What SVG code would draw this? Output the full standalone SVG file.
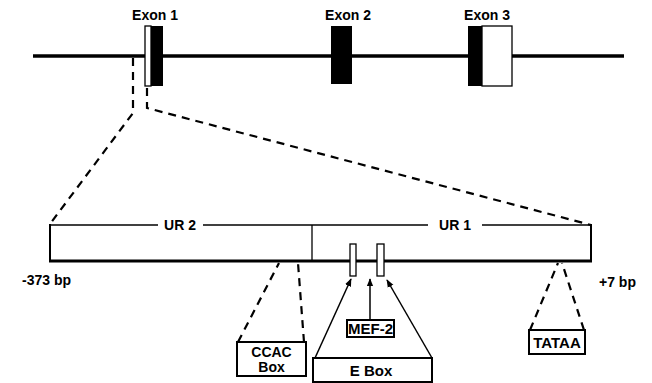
<svg xmlns="http://www.w3.org/2000/svg" width="652" height="383" viewBox="0 0 652 383">
<defs>
<style>
text{font-family:"Liberation Sans",Arial,sans-serif;font-weight:bold;font-size:14px;fill:#000}
.c{text-anchor:middle}
.b{font-size:15px}
.dash{fill:none;stroke:#000;stroke-width:2.2;stroke-dasharray:8,6}
.thin{fill:none;stroke:#000;stroke-width:1.3}
.box{fill:#fff;stroke:#000;stroke-width:2}
.arr{fill:none;stroke:#000;stroke-width:1.5;marker-end:url(#ah)}
</style>
<marker id="ah" viewBox="0 0 10 10" refX="9" refY="5" markerWidth="8" markerHeight="8" markerUnits="userSpaceOnUse" orient="auto">
<path d="M0,1 L10,5 L0,9 Z" fill="#000"/>
</marker>
</defs>
<rect width="652" height="383" fill="#fff"/>
<g id="gene">
<line x1="33" y1="56" x2="624" y2="56" stroke="#000" stroke-width="3.5"/>
</g>
<g id="exon1">
<rect x="145" y="26" width="6" height="60" fill="#fff" stroke="#000" stroke-width="1.3"/>
<rect x="151" y="26" width="12" height="60" fill="#000"/>
<text class="c" x="155" y="20">Exon 1</text>
</g>
<g id="exon2">
<rect x="331" y="26" width="21" height="58" fill="#000"/>
<text class="c" x="348" y="20">Exon 2</text>
</g>
<g id="exon3">
<rect x="482" y="26" width="30" height="60" fill="#fff" stroke="#000" stroke-width="1.3"/>
<rect x="468" y="26" width="14" height="60" fill="#000"/>
<text class="c" x="487" y="20">Exon 3</text>
</g>
<g id="promoter">
<line x1="50" y1="225" x2="158" y2="225" class="thin"/>
<line x1="203" y1="225" x2="428" y2="225" class="thin"/>
<line x1="482" y1="225" x2="591" y2="225" class="thin"/>
<line x1="50" y1="224" x2="50" y2="261" stroke="#000" stroke-width="2"/>
<line x1="591" y1="224" x2="591" y2="261" stroke="#000" stroke-width="2"/>
<line x1="312" y1="225" x2="312" y2="261" class="thin"/>
<line x1="49" y1="261" x2="592" y2="261" stroke="#000" stroke-width="3"/>
<text class="c" x="180" y="230">UR 2</text>
<text class="c" x="455" y="230">UR 1</text>
<text x="22" y="285">-373 bp</text>
<text x="599" y="287">+7 bp</text>
<rect x="350" y="244" width="6" height="32" fill="#fff" stroke="#000" stroke-width="1.3"/>
<rect x="377" y="244" width="7" height="32" fill="#fff" stroke="#000" stroke-width="1.3"/>
</g>
<g id="ccac">
<rect class="box" x="237" y="342" width="69" height="34"/>
<text class="c" x="271.5" y="357">CCAC</text>
<text class="c" x="271.5" y="372">Box</text>
</g>
<g id="mef2">
<rect class="box" x="347" y="320" width="47" height="17"/>
<text class="c b" x="370.5" y="334">MEF-2</text>
</g>
<g id="ebox">
<rect class="box" x="313" y="358" width="119" height="24"/>
<text class="c b" x="371" y="376">E Box</text>
</g>
<g id="tataa">
<rect class="box" x="529" y="330" width="56" height="24"/>
<text class="c b" x="557" y="348">TATAA</text>
</g>
<g id="connectors">
<path class="dash" d="M133,58 L133,113 L50,224"/>
<path class="dash" d="M147,88 L147,108 L591,225"/>
<line class="dash" x1="238" y1="342" x2="279" y2="263"/>
<line class="dash" x1="304" y1="342" x2="298" y2="263"/>
<line class="dash" x1="530" y1="330" x2="558" y2="263"/>
<line class="dash" x1="584" y1="330" x2="562" y2="263"/>
<line class="arr" x1="370" y1="320" x2="370" y2="279"/>
<line class="arr" x1="315" y1="358" x2="351" y2="279"/>
<line class="arr" x1="432" y1="358" x2="387" y2="280"/>
</g>
</svg>
